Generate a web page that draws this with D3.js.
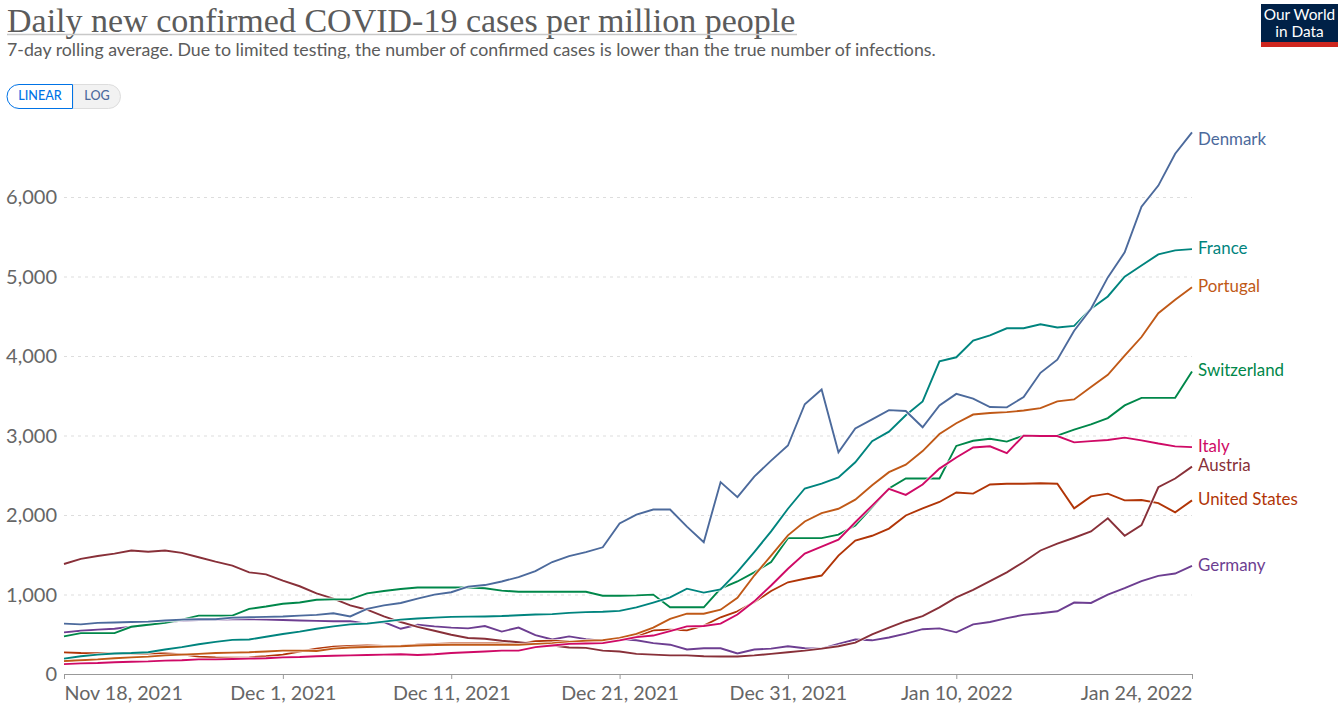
<!DOCTYPE html>
<html>
<head>
<meta charset="utf-8">
<script src="https://cdn.jsdelivr.net/npm/d3@7"></script>
<style>
  body { margin: 0; background: #fff; }
  text { font-family: Lato, sans-serif; }
</style>
</head>
<body>
<div id="chart"></div>
<script>
var width = 1341;
var height = 716;

var titleText = "Daily new confirmed COVID-19 cases per million people";
var subtitleText = "7-day rolling average. Due to limited testing, the number of confirmed cases is lower than the true number of infections.";

var yTicks = [0, 1000, 2000, 3000, 4000, 5000, 6000];
var xTickDates = ["2021-11-18", "2021-12-01", "2021-12-11", "2021-12-21", "2021-12-31", "2022-01-10", "2022-01-24"];

var denmark = [640,630,650,655,660,665,680,690,695,695,715,720,725,730,740,750,770,730,825,870,900,955,1005,1035,1105,1125,1170,1225,1300,1415,1490,1540,1600,1900,2010,2075,2075,1860,1665,2420,2230,2490,2690,2880,3400,3585,2795,3095,3210,3325,3315,3110,3385,3530,3470,3365,3360,3490,3795,3960,4325,4600,4995,5310,5885,6150,6550,6820];
var france = [200,230,250,265,270,280,315,345,380,410,435,440,475,510,540,575,605,630,640,665,690,705,715,725,728,730,735,745,755,760,775,785,790,800,845,905,970,1080,1030,1070,1290,1540,1800,2085,2340,2400,2480,2670,2935,3055,3260,3435,3940,3990,4200,4265,4355,4355,4405,4365,4385,4600,4755,5005,5145,5285,5335,5350];
var portugal = [170,180,190,205,215,225,240,250,260,270,275,280,290,300,300,295,325,340,345,350,355,365,372,375,375,375,375,375,385,395,410,425,430,460,510,590,700,765,765,815,965,1245,1495,1750,1925,2030,2085,2200,2380,2545,2640,2810,3025,3160,3270,3290,3300,3320,3350,3435,3460,3615,3770,4010,4245,4545,4715,4870];
var switzerland = [480,520,520,520,600,625,650,690,740,740,740,825,855,890,905,940,945,945,1020,1050,1075,1095,1095,1095,1095,1085,1055,1040,1040,1040,1040,1040,990,990,995,1005,845,845,845,1080,1170,1285,1415,1715,1715,1715,1760,1875,2105,2340,2465,2465,2465,2875,2940,2965,2930,3005,3000,3005,3080,3145,3225,3385,3480,3480,3480,3810];
var italy = [130,140,145,155,160,165,175,180,190,190,195,200,205,215,220,230,235,240,245,250,255,245,255,270,280,290,300,300,345,365,385,390,395,430,470,490,545,605,610,640,755,920,1120,1330,1520,1610,1695,1915,2125,2335,2260,2390,2590,2730,2855,2870,2785,3005,3000,3000,2920,2935,2950,2980,2945,2905,2870,2860];
var austria = [1390,1455,1490,1520,1560,1545,1560,1530,1475,1420,1370,1285,1260,1180,1110,1020,955,870,815,730,660,600,550,500,460,450,425,405,385,365,340,335,300,290,260,250,240,240,230,226,226,240,260,280,300,325,355,400,505,590,670,735,845,970,1065,1175,1285,1415,1560,1645,1720,1800,1965,1745,1880,2355,2465,2615];
var unitedStates = [278,270,268,266,265,265,265,255,225,215,212,215,230,250,290,325,350,360,365,360,360,375,385,390,390,390,390,385,420,425,415,410,415,440,480,555,565,555,615,720,795,910,1050,1160,1205,1245,1495,1685,1745,1835,2000,2090,2170,2290,2275,2390,2400,2400,2405,2400,2090,2240,2275,2190,2195,2155,2040,2190];
var germany = [530,550,565,575,600,625,650,680,685,690,695,695,690,685,680,675,670,670,640,660,575,625,605,590,580,610,540,590,495,440,480,445,425,445,430,395,375,315,330,330,265,315,325,355,330,325,385,440,430,465,515,570,580,530,630,660,710,750,770,795,905,900,1005,1085,1175,1240,1270,1365];

var seriesNames = ["Germany", "United States", "Austria", "Switzerland", "Portugal", "Italy", "France", "Denmark"];
var seriesValues = [germany, unitedStates, austria, switzerland, portugal, italy, france, denmark];
var seriesColors = ["#6D3E91", "#B13507", "#883039", "#00874A", "#C05917", "#CF0A66", "#00847E", "#4C6A9C"];

var parseDate = d3.timeParse("%Y-%m-%d");
var startDate = parseDate("2021-11-18");
var endDate = parseDate("2022-01-24");
var dates = d3.timeDay.range(startDate, d3.timeDay.offset(endDate, 1));

var x = d3.scaleTime().domain([startDate, endDate]).range([64, 1192]);
var y = d3.scaleLinear().domain([0, 6000]).range([674.5, 197.5]);

var svg = d3.select("#chart")
    .append("svg")
    .attr("width", width)
    .attr("height", height)
    .style("display", "block");

// header
svg.append("text")
    .attr("x", 7)
    .attr("y", 32)
    .attr("font-size", "34px")
    .style("font-family", "'Liberation Serif', serif")
    .attr("fill", "#5b5b5b")
    .text(titleText);

svg.append("line")
    .attr("x1", 7).attr("x2", 797)
    .attr("y1", 34.5).attr("y2", 34.5)
    .attr("stroke", "#c8c8c8")
    .attr("stroke-width", 1.5);

svg.append("text")
    .attr("x", 7)
    .attr("y", 56)
    .attr("font-size", "17.75px")
    .attr("fill", "#5b5b5b")
    .text(subtitleText);

// logo
svg.append("rect").attr("x", 1261).attr("y", 4).attr("width", 77).attr("height", 43).attr("fill", "#002147");
svg.append("rect").attr("x", 1261).attr("y", 42).attr("width", 77).attr("height", 5).attr("fill", "#ce261e");
svg.append("text").attr("x", 1299.5).attr("y", 20).attr("text-anchor", "middle")
    .attr("font-size", "15.4px").attr("fill", "#fff").text("Our World");
svg.append("text").attr("x", 1299.5).attr("y", 37).attr("text-anchor", "middle")
    .attr("font-size", "15.4px").attr("fill", "#fff").text("in Data");

// linear / log toggle
svg.append("path")
    .attr("d", "M73,84.5 H96 H108.5 a12,12 0 0 1 0,24 H73 Z")
    .attr("fill", "#f2f2f2")
    .attr("stroke", "#dddddd");
svg.append("path")
    .attr("d", "M72.5,84.5 H19 a12,12 0 0 0 0,24 H72.5 Z")
    .attr("fill", "#fff")
    .attr("stroke", "#0073e6")
    .attr("stroke-width", 1);
svg.append("text").attr("x", 40).attr("y", 100).attr("text-anchor", "middle")
    .attr("font-size", "12.6px").attr("font-weight", 500).attr("fill", "#0073e6").text("LINEAR");
svg.append("text").attr("x", 97).attr("y", 100).attr("text-anchor", "middle")
    .attr("font-size", "12.6px").attr("font-weight", 500).attr("fill", "#4C6A9C").text("LOG");

// gridlines + y labels
var yAxis = d3.axisLeft(y)
    .tickValues(yTicks)
    .tickSize(0)
    .tickPadding(7)
    .tickFormat(d3.format(","));

var yG = svg.append("g")
    .attr("transform", "translate(64,0)")
    .call(yAxis);
yG.select(".domain").remove();
yG.selectAll("text")
    .style("font-family", "Lato, sans-serif")
    .style("font-size", "20px")
    .attr("fill", "#666");

svg.selectAll(".grid")
    .data(yTicks.slice(1))
    .enter()
    .append("line")
    .attr("class", "grid")
    .attr("x1", 64)
    .attr("x2", 1192)
    .attr("y1", function(d){ return y(d); })
    .attr("y2", function(d){ return y(d); })
    .attr("stroke", "#dddddd")
    .attr("stroke-dasharray", "3,4");

// x axis
var xAxis = d3.axisBottom(x)
    .tickValues(xTickDates.map(parseDate))
    .tickSize(5)
    .tickPadding(7)
    .tickFormat(d3.timeFormat("%b %-d, %Y"));

var xG = svg.append("g")
    .attr("transform", "translate(0,674)")
    .call(xAxis);
xG.select(".domain").attr("stroke", "#999").attr("d", "M64.5,0.5H1192.5");
xG.selectAll("line").attr("stroke", "#999");
xG.selectAll("text")
    .style("font-family", "Lato, sans-serif")
    .style("font-size", "19.7px")
    .attr("fill", "#666")
    .attr("text-anchor", function(d, i){
        if (i == 0) return "start";
        if (i == xTickDates.length - 1) return "end";
        return "middle";
    });

// lines
var line = d3.line()
    .x(function(d, i){ return x(dates[i]); })
    .y(function(d){ return y(d); });

var groups = svg.selectAll(".series")
    .data(seriesValues)
    .enter()
    .append("g")
    .attr("class", "series");

groups.append("path")
    .attr("d", line)
    .attr("fill", "none")
    .attr("stroke", "#fff")
    .attr("stroke-opacity", 0.8)
    .attr("stroke-width", 3.5);

groups.append("path")
    .attr("d", line)
    .attr("fill", "none")
    .attr("stroke", function(d, i){ return seriesColors[i]; })
    .attr("stroke-width", 1.9);

// end labels, Denmark is pushed down to stay inside the plot
svg.selectAll(".end-label")
    .data(seriesNames)
    .enter()
    .append("text")
    .attr("class", "end-label")
    .attr("x", 1198)
    .attr("y", function(d, i){
        var v = seriesValues[i][dates.length - 1];
        return Math.max(y(v) - 1, 139);
    })
    .attr("dy", "0.34em")
    .attr("font-size", "16.9px")
    .attr("fill", function(d, i){ return seriesColors[i]; })
    .text(function(d){ return d; });
</script>
</body>
</html>
